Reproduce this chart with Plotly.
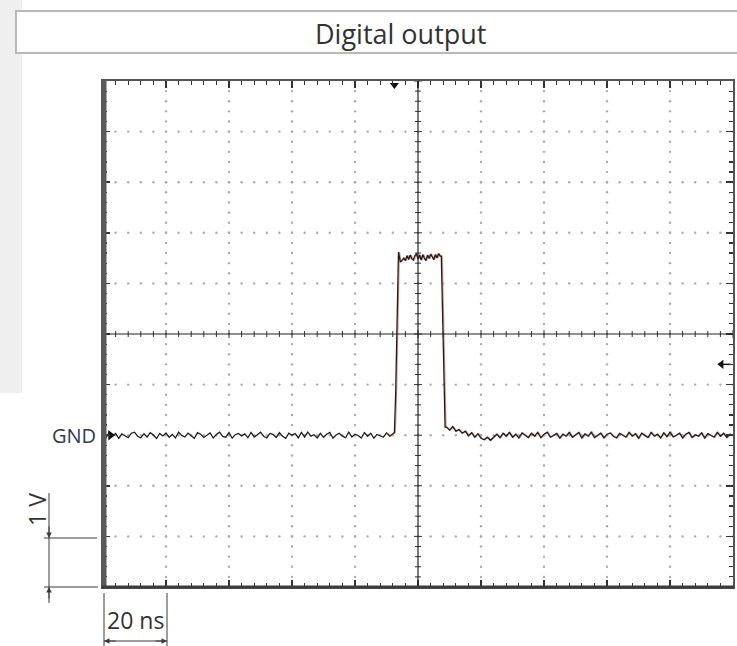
import numpy as np
import plotly.graph_objects as go

# ---------------- data (oscilloscope trace, volts vs ns) ----------------
pre_t0_ns, pre_dt_ns = 0.0, 1.0
pre_mv = [20, -45, 55, -10, 35, -60, 25, -5, -50, 40,
          60, -20, -55, 30, -35, 50, 5, -65, 35, -15,
          45, -40, 15, -55, 60, -5, -35, 40, -20, -60,
          50, 20, -45, 0, 45, -55, 15, 60, -25, -40,
          55, -60, 10, 35, -15, 25, -50, 55, -35, 10,
          60, -20, -55, 35, 15, -45, 50, -20, -60, 40,
          0, 30, -50, 55, -35, 60, -20, 10, -55, 35,
          -40, 20, 55, -60, 5, 40, -20, -50, 60, -35,
          20, -5, -55, 50, -20, 40, -60, 15, -5, -40,
          45, -20, 30]

rise_t = [92.5, 92.9, 93.2, 93.5, 93.8, 94.4, 95.0]
rise_v = [0.05, 0.8, 2.0, 3.1, 3.62, 3.42, 3.47]

plat_t0_ns, plat_dt_ns = 95.5, 0.5
plat_v = [3.50, 3.45, 3.55, 3.47, 3.56, 3.49, 3.46, 3.55, 3.58, 3.48,
          3.56, 3.46, 3.57, 3.50, 3.45, 3.56, 3.49, 3.58, 3.52, 3.47,
          3.57, 3.50, 3.59, 3.54]

fall_t = [107.4, 107.7, 108.0, 108.3, 108.6]
fall_v = [3.54, 2.7, 1.5, 0.4, 0.16]

post_t0_ns, post_dt_ns = 109.0, 1.0
post_mv = [160, 100, 170, 80, 110, 40, 80, -10, 50, -40,
           30, -60, -90, -40, -100, -30, 20, -50, 40, -20,
           55, -40, 20, -55, 45, 0, -45, 40, -20, 55,
           -50, 20, 60, -40, 0, 35, -60, 20, -20, 55,
           -40, 10, 55, -55, 25, -20, 60, -45, 0, 40,
           -55, 20, 45, -20, -55, 35, 0, -40, 55, -20,
           30, -60, 40, 0, -45, 55, -20, 20, -55, 45,
           -30, 60, -35, 0, 40, -55, 20, 55, -45, 10,
           -20, 45, -55, 30, 0, -40, 55, -20, 40, -45,
           20, 0]

trigger_time_ns = 92.5
trigger_level_v = 1.40
ref_trace_start_ns = 90.0   # the red reference trace shows from the pulse onward

x_range = [0, 200]      # 20 ns/div, 10 div
y_range = [-3, 7]       # 1 V/div, 10 div, GND = 0

# ---------------- assemble trace ----------------
pre_t = pre_t0_ns + pre_dt_ns * np.arange(len(pre_mv))
plat_t = plat_t0_ns + plat_dt_ns * np.arange(len(plat_v))
post_t = post_t0_ns + post_dt_ns * np.arange(len(post_mv))
t_all = np.concatenate([pre_t, rise_t, plat_t, fall_t, post_t])
v_all = np.concatenate([np.array(pre_mv) / 1000.0, rise_v, plat_v, fall_v,
                        np.array(post_mv) / 1000.0])
ref_mask = t_all >= ref_trace_start_ns

W, H = 737, 646
PL, PR, PT, PB = 103, 733, 81, 587


def px(x):
    return x / W


def py(y):
    return 1 - y / H


xs_per_px = (x_range[1] - x_range[0]) / (PR - PL)
ys_per_px = (y_range[1] - y_range[0]) / (PB - PT)

fig = go.Figure()

# grid dots
gx, gy = [], []
for k in range(1, 10):
    xv = 20 * k
    if xv == 100:
        continue
    for m in range(0, 51):
        gx.append(xv); gy.append(-3 + 0.2 * m)
for k in range(1, 10):
    yv = -3 + k
    if yv == 2:
        continue
    for m in range(0, 51):
        gx.append(4 * m); gy.append(yv)
fig.add_trace(go.Scatter(x=gx, y=gy, mode="markers",
                         marker=dict(size=2.4, color="#ababab"),
                         hoverinfo="skip", showlegend=False))

# crosshair ticks
cx, cy = [], []
for m in range(0, 51):
    yv = -3 + 0.2 * m
    L = 4 if m % 5 == 0 else 3
    cx += [100 - L * xs_per_px, 100 + L * xs_per_px, None]
    cy += [yv, yv, None]
for m in range(0, 51):
    xv = 4 * m
    L = 4 if m % 5 == 0 else 3
    cx += [xv, xv, None]
    cy += [2 - L * ys_per_px, 2 + L * ys_per_px, None]
fig.add_trace(go.Scatter(x=cx, y=cy, mode="lines",
                         line=dict(color="#333", width=1),
                         hoverinfo="skip", showlegend=False))

# red reference trace (under) and black trace
fig.add_trace(go.Scatter(x=t_all[ref_mask] + 0.3, y=v_all[ref_mask], mode="lines",
                         line=dict(color="#e3937e", width=1.2),
                         hoverinfo="skip", showlegend=False))
fig.add_trace(go.Scatter(x=t_all, y=v_all, mode="lines",
                         line=dict(color="#1e1e1e", width=1.3),
                         hoverinfo="skip", showlegend=False))

# markers: trigger (top), trigger level (right), GND (left)
fig.add_trace(go.Scatter(x=[trigger_time_ns], y=[y_range[1] - 4 * ys_per_px],
                         mode="markers", cliponaxis=False,
                         marker=dict(symbol="triangle-down", size=8, color="#111"),
                         hoverinfo="skip", showlegend=False))
fig.add_trace(go.Scatter(x=[196.5, 199.3], y=[trigger_level_v, trigger_level_v],
                         mode="lines", line=dict(color="#111", width=1.5),
                         hoverinfo="skip", showlegend=False))
fig.add_trace(go.Scatter(x=[196.3], y=[trigger_level_v], mode="markers",
                         marker=dict(symbol="triangle-left", size=8, color="#111"),
                         hoverinfo="skip", showlegend=False))
fig.add_trace(go.Scatter(x=[2.4], y=[0], mode="markers", cliponaxis=False,
                         marker=dict(symbol="triangle-right", size=9, color="#111"),
                         hoverinfo="skip", showlegend=False))

shapes = []
# left gray strip and header box
shapes.append(dict(type="rect", xref="paper", yref="paper", x0=px(0), x1=px(22),
                   y0=py(393), y1=py(0), fillcolor="#efefef", line=dict(width=0),
                   layer="below"))
shapes.append(dict(type="rect", xref="paper", yref="paper", x0=px(16), x1=px(745),
                   y0=py(53), y1=py(11), fillcolor="white",
                   line=dict(color="#b8b8b8", width=2), layer="below"))
# crosshair
shapes.append(dict(type="line", xref="x", yref="y", x0=100, x1=100,
                   y0=y_range[0], y1=y_range[1], line=dict(color="#222", width=1.2)))
shapes.append(dict(type="line", xref="x", yref="y", x0=x_range[0], x1=x_range[1],
                   y0=2, y1=2, line=dict(color="#222", width=1.2)))
# thick left / bottom borders
shapes.append(dict(type="rect", xref="paper", yref="paper", x0=px(101.5), x1=px(106.5),
                   y0=py(588.5), y1=py(80), fillcolor="#5a5a5a", line=dict(width=0)))
shapes.append(dict(type="line", xref="paper", yref="paper", x0=px(101.5), x1=px(734),
                   y0=py(587), y1=py(587), line=dict(color="#3c3c3c", width=3)))

# dimension lines
dim = "#3a3a3a"
for (x0, y0, x1, y1) in [(49, 493, 49, 603), (44, 538, 97, 538), (44, 587, 98, 587),
                         (104, 593, 104, 646), (167, 593, 167, 646), (104, 641, 167, 641)]:
    shapes.append(dict(type="line", xref="paper", yref="paper", x0=px(x0), x1=px(x1),
                       y0=py(y0), y1=py(y1), line=dict(color=dim, width=1)))

annotations = []
for (x, y, ax, ay) in [(49, 538, 0, -13), (49, 587, 0, 13), (104, 641, 13, 0), (167, 641, -13, 0)]:
    annotations.append(dict(xref="paper", yref="paper", x=px(x), y=py(y), ax=ax, ay=ay,
                            text="", showarrow=True, arrowhead=2, arrowsize=1.1,
                            arrowwidth=1, arrowcolor=dim, standoff=0))

font = "Open Sans"
annotations.append(dict(xref="paper", yref="paper", x=px(400), y=py(34), text="Digital output",
                        showarrow=False, font=dict(family=font, size=27, color="#333"),
                        xanchor="center", yanchor="middle"))
annotations.append(dict(xref="paper", yref="paper", x=px(98), y=py(435), text="GND",
                        showarrow=False, font=dict(family=font, size=20, color="#2f3a4c"),
                        xanchor="right", yanchor="middle"))
annotations.append(dict(xref="paper", yref="paper", x=px(37), y=py(510), text="1 V",
                        textangle=-90, showarrow=False,
                        font=dict(family=font, size=23, color="#333"),
                        xanchor="center", yanchor="middle"))
annotations.append(dict(xref="paper", yref="paper", x=px(135), y=py(620), text="20 ns",
                        showarrow=False, font=dict(family=font, size=23, color="#333"),
                        xanchor="center", yanchor="middle"))

axis_common = dict(showgrid=False, zeroline=False, showticklabels=False,
                   showline=True, linecolor="#555", linewidth=2, mirror="ticks",
                   ticks="inside", ticklen=7, tickwidth=1.6, tickcolor="#333",
                   fixedrange=True)

fig.update_layout(
    width=W, height=H,
    margin=dict(l=0, r=0, t=0, b=0, pad=0),
    paper_bgcolor="white", plot_bgcolor="white",
    showlegend=False,
    xaxis=dict(domain=[px(PL), px(PR)], range=x_range, tick0=0, dtick=20,
               minor=dict(dtick=4, ticks="inside", ticklen=4, tickwidth=1.2,
                          tickcolor="#333"),
               **axis_common),
    yaxis=dict(domain=[py(PB), py(PT)], range=y_range, tick0=0, dtick=1,
               minor=dict(dtick=0.2, ticks="inside", ticklen=4, tickwidth=1.2,
                          tickcolor="#333"),
               **axis_common),
    shapes=shapes,
    annotations=annotations,
)

fig.write_html("out.html", config={"displayModeBar": False, "staticPlot": True})
